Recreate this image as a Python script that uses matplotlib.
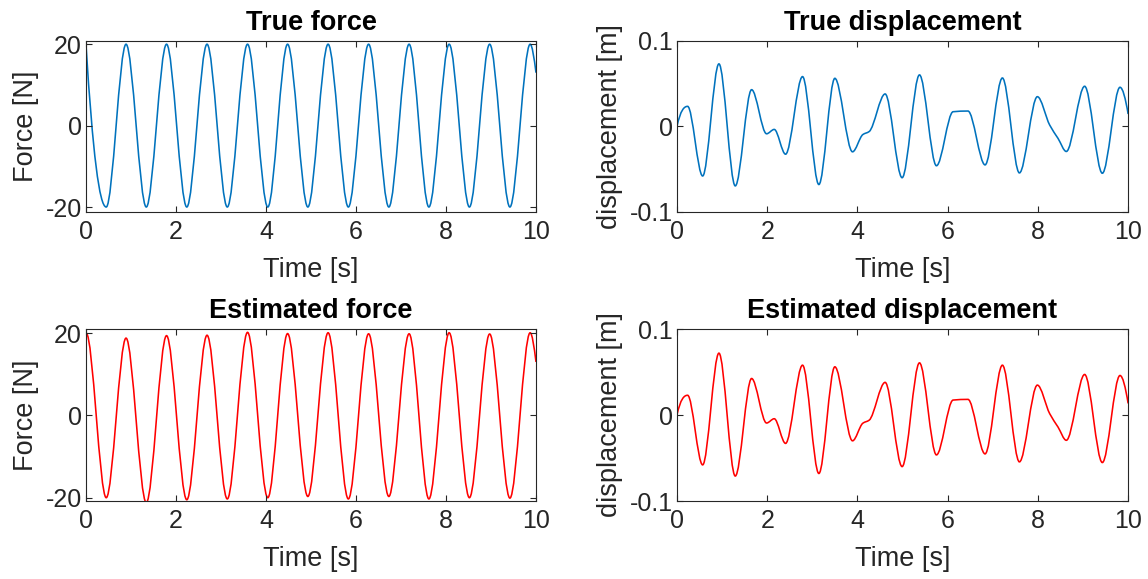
import numpy as np
import matplotlib
matplotlib.use("Agg")
import matplotlib.pyplot as plt
from matplotlib.path import Path
from matplotlib.patches import PathPatch

plt.rcParams['font.family'] = ['Liberation Sans', 'DejaVu Sans']
plt.rcParams['axes.unicode_minus'] = False

# ---- data (extrema / knee points of each curve) ----
# true force: peaks and troughs
true_force_t = [0, 0.45, 0.89, 1.34, 1.79, 2.24, 2.69, 3.14, 3.59, 4.04, 4.48, 4.93,
                5.38, 5.83, 6.28, 6.73, 7.18, 7.62, 8.07, 8.52, 8.97, 9.42, 9.87, 10.0]
true_force_f = [20, -20, 20, -20, 20, -20, 20, -20, 20, -20, 20, -20,
                20, -20, 20, -20, 20, -20, 20, -20, 20, -20, 20, 13]

# estimated force: starts at 0, jumps to 20
est_force_t = [0, 0.005, 0.45, 0.89, 1.34, 1.79, 2.24, 2.69, 3.14, 3.59, 4.04, 4.48, 4.93,
               5.38, 5.83, 6.28, 6.73, 7.18, 7.62, 8.07, 8.52, 8.97, 9.42, 9.87, 10.0]
est_force_f = [0, 20, -20.0, 18.8, -21.2, 19.4, -20.5, 19.5, -20.3, 20.2, -20.0, 19.9, -19.7,
               20.1, -20.3, 19.85, -19.7, 19.85, -20.3, 20.1, -20.0, 19.8, -20.1, 20.1, 13.0]

# true displacement
true_disp_t = [0, 0.236, 0.569, 0.930, 1.292, 1.654, 1.986, 2.156, 2.407, 2.783, 3.145,
               3.499, 3.891, 4.12, 4.26, 4.614, 4.99, 5.375, 5.751, 6.12, 6.45, 6.829,
               7.213, 7.59, 7.988, 8.261, 8.446, 8.63, 9.036, 9.428, 9.819, 10.0]
true_disp_x = [0, 0.0235, -0.058, 0.0732, -0.0696, 0.043, -0.0086, -0.0035, -0.0325, 0.0583, -0.068,
               0.0563, -0.0297, -0.0095, -0.006, 0.038, -0.060, 0.0603, -0.046, 0.0172, 0.018, -0.045,
               0.0567, -0.0544, 0.0348, 0.0016, -0.014, -0.0293, 0.047, -0.0548, 0.0458, 0.0145]

# estimated displacement
est_disp_t = [0, 0.236, 0.569, 0.930, 1.292, 1.654, 1.986, 2.156, 2.407, 2.783, 3.145,
              3.499, 3.891, 4.12, 4.26, 4.614, 4.99, 5.375, 5.751, 6.12, 6.45, 6.829,
              7.213, 7.59, 7.988, 8.261, 8.446, 8.63, 9.036, 9.428, 9.819, 10.0]
est_disp_x = [0, 0.023, -0.058, 0.072, -0.071, 0.0425, -0.0093, -0.0043, -0.033, 0.058, -0.068,
              0.0561, -0.030, -0.0095, -0.006, 0.038, -0.060, 0.0607, -0.0464, 0.0174, 0.0182, -0.0452,
              0.058, -0.0545, 0.0348, 0.0016, -0.014, -0.0294, 0.0472, -0.0553, 0.046, 0.0135]

time_ticks = [0, 2, 4, 6, 8, 10]
force_ticks = [-20, 0, 20]
force_ticklabels = ['-20', '0', '20']
disp_ticks = [-0.1, 0, 0.1]
disp_ticklabels = ['-0.1', '0', '0.1']


def pchip_slopes(x, y):
    # monotone (Fritsch-Carlson) tangents so the curve doesn't overshoot
    x = np.asarray(x, float); y = np.asarray(y, float)
    h = np.diff(x); d = np.diff(y) / h
    m = np.zeros_like(y)
    for i in range(1, len(y) - 1):
        if d[i-1] * d[i] > 0:
            w1 = 2*h[i] + h[i-1]; w2 = h[i] + 2*h[i-1]
            m[i] = (w1 + w2) / (w1/d[i-1] + w2/d[i])
    for i0, hh0, hh1, dd0, dd1 in [(0, h[0], h[1], d[0], d[1]),
                                   (-1, h[-1], h[-2], d[-1], d[-2])]:
        s = ((2*hh0 + hh1)*dd0 - hh0*dd1) / (hh0 + hh1)
        if np.sign(s) != np.sign(dd0):
            s = 0
        elif np.sign(dd0) != np.sign(dd1) and abs(s) > 3*abs(dd0):
            s = 3*dd0
        m[i0] = s
    return m


def smooth_line(ax, x, y, color, lw=1.15):
    # draw a smooth bezier path through the read points
    m = pchip_slopes(x, y)
    verts = [(x[0], y[0])]
    codes = [Path.MOVETO]
    for i in range(len(x) - 1):
        h = x[i+1] - x[i]
        verts += [(x[i] + h/3, y[i] + m[i]*h/3),
                  (x[i+1] - h/3, y[i+1] - m[i+1]*h/3),
                  (x[i+1], y[i+1])]
        codes += [Path.CURVE4]*3
    ax.add_patch(PathPatch(Path(verts, codes), fill=False, edgecolor=color,
                           lw=lw, capstyle='butt', joinstyle='round'))


def style(ax, title, ylabel, yticks, yticklabels, ylim):
    ax.set_xlim(0, 10)
    ax.set_ylim(*ylim)
    ax.set_xticks(time_ticks)
    ax.set_yticks(yticks)
    ax.set_yticklabels(yticklabels)
    ax.tick_params(direction='in', top=True, right=True, length=4, width=0.8,
                   labelsize=18, colors='#262626')
    ax.tick_params(axis='x', pad=6)
    ax.tick_params(axis='y', pad=3)
    for sp in ax.spines.values():
        sp.set_color('#262626')
        sp.set_linewidth(0.8)
    ax.set_title(title, fontsize=19.5, fontweight='bold', pad=8)
    ax.set_xlabel('Time [s]', fontsize=19.5, color='#262626', labelpad=9)
    ax.set_ylabel(ylabel, fontsize=19.5, color='#262626', labelpad=5)


fig = plt.figure(figsize=(11.48, 5.79), dpi=100)
ax1 = fig.add_axes([0.0749, 0.634, 0.392, 0.2953])
ax2 = fig.add_axes([0.5897, 0.634, 0.393, 0.2953])
ax3 = fig.add_axes([0.0749, 0.1347, 0.392, 0.297])
ax4 = fig.add_axes([0.5897, 0.1347, 0.393, 0.297])

blue = '#0072BD'
red = '#FF0000'

smooth_line(ax1, true_force_t, true_force_f, blue)
style(ax1, 'True force', 'Force [N]', force_ticks, force_ticklabels, (-21.2, 20.8))

smooth_line(ax2, true_disp_t, true_disp_x, blue)
style(ax2, 'True displacement', 'displacement [m]', disp_ticks, disp_ticklabels, (-0.1, 0.1))

smooth_line(ax3, est_force_t, est_force_f, red)
style(ax3, 'Estimated force', 'Force [N]', force_ticks, force_ticklabels, (-20.8, 21.0))

smooth_line(ax4, est_disp_t, est_disp_x, red)
style(ax4, 'Estimated displacement', 'displacement [m]', disp_ticks, disp_ticklabels, (-0.1, 0.1))

plt.savefig('out.png', dpi=100)
